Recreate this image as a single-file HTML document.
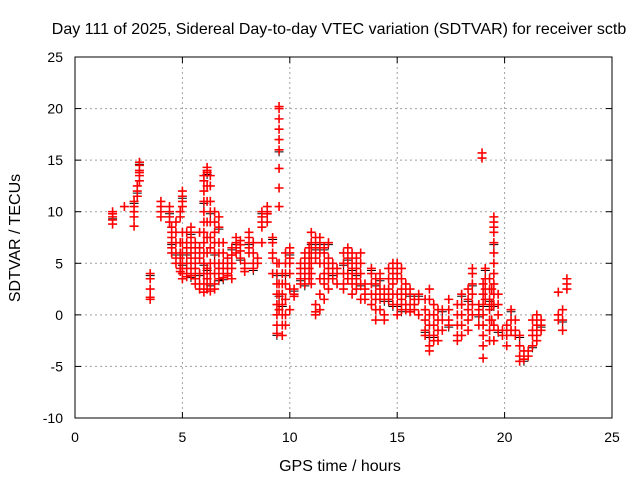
<!DOCTYPE html>
<html><head><meta charset="utf-8"><style>
body{margin:0;background:#fff;}
svg{display:block;font-family:"Liberation Sans",sans-serif;}
</style></head><body>
<svg id="chart" width="640" height="480">
<rect width="640" height="480" fill="#fff"/>
<text x="339" y="34" font-size="16" text-anchor="middle">Day 111 of 2025, Sidereal Day-to-day VTEC variation (SDTVAR) for receiver sctb</text>
<g id="grid"></g><g id="axes"></g><g id="marks"></g>
<text x="340" y="471" font-size="16" text-anchor="middle">GPS time / hours</text>
<text transform="translate(20,238) rotate(-90)" font-size="16" text-anchor="middle">SDTVAR / TECUs</text>
</svg>
<script>
const xTicks=[0,5,10,15,20,25];
const yTicks=[-10,-5,0,5,10,15,20,25];
const groupTimes=[1.75,2.3,2.75,2.9,3.0,3.5,4.0,4.4,4.5,4.7,4.9,5.0,5.2,5.4,5.6,5.8,6.0,6.15,6.3,6.5,6.7,6.9,7.1,7.3,7.5,7.7,7.9,8.1,8.3,8.5,8.7,8.95,9.2,9.4,9.5,9.65,9.8,10.0,10.2,10.5,10.7,10.9,11.0,11.2,11.4,11.6,11.8,12.0,12.2,12.5,12.7,12.9,13.1,13.3,13.5,13.8,14.0,14.2,14.4,14.6,14.8,15.0,15.2,15.4,15.6,15.8,16.0,16.3,16.5,16.7,16.9,17.1,17.4,17.8,18.0,18.3,18.5,18.8,18.95,19.0,19.1,19.3,19.4,19.5,19.7,19.9,20.1,20.3,20.5,20.7,20.9,21.1,21.3,21.5,21.7,22.5,22.7,22.9];
const groupValues=[
[9.5,9.8,9.2,10,8.8],[10.5],[11,10,9.5,10.5,8.6],[11.5,12,12.5],[13,13.5,14,14.5,14.8,13.8],
[1.5,1.7,2.5,3.5,4],[10,10.5,11,9.5],[10.5,10,9.5,9],[8.5,8,7.5,7,6.5,6],[9,8,7,6,5.5,5],
[10,9.5,7,6,5.5,5,4.5,4.2],[12,11.5,11,10.5,8,7,6,5,4,3.5],[8,7,6.5,6,5,4.5,4,3.7],
[8.5,8,7.5,6.5,5.5,5,4.5,3.8],[7,6,5.5,5,4.5,4,3.5,3],[8,6.5,5.5,4,3,2.5],
[13,13.5,12,11,10,9,8,7,6,5,4,3,2.2],[14,14.3,13.8,12.5,11,9,7.5,6,4.5,3.5,2.5],
[13.5,12.5,11,10,9,7.5,6.5,5,4,3,2.3],[10,9,8,7,6,5,4,3,2.5],[9.5,8.5,7,6,5,4.5,4,3.5],
[7,6,5,4.5,4,3.6],[5.5,5,4.5,4,3.8],[6.5,5.8,5,4.5,3.5],[7.5,7,6.5,6],[7.2,6.8,6.2,5.5],
[5,4.5,4.2],[8,7.5,7,6.5,6],[7,6,5,4.5],[5.5,5],[9.5,9,8.5,10,7],[10,10.5,9.8,9],
[7.5,7,6,5.5,4],[5,4,3,2,1,0,-1,-1.8],[20.2,20,19,18,17,16,14.2,12.3,10.5,5,3,2,1,0.5],
[4,3,2,1,0,-1,-2],[6,5,4,3,1.5,0,-1],[6.5,6,5.5,5,4,2.5,0.5],[2.5,2,1.8],[5,4.5,4,3.5,3],
[6,5.5,5,4,3],[6.5,5.5,4.5,3.5],[8,7,6,5,4,3],[7.5,6.5,5.5,1,0.3,0],[7.5,7,6,5,3.5,2,0.5],
[6.5,6,5,4,3,1.5],[7,5.5,4.5,3.5,2.5],[5,4,3.5],[4.5,4,3],[6,5,4,3,2.5],[6.5,6,5.5,5,4,3.5],
[6,5,4.5,4,3,2],[5.5,4.5,4,3.5,2.5],[6,5,4,3,1.5],[3,2.5,2,1.5],[4.5,4,3,2,1],
[3.5,3,2,1.5,0.5,-0.5],[4,3.5,2.5,1.5,0.5],[2.5,2,1.5,0,-0.5],[4.5,3.5,2.5,1.5],
[5,4.5,4,3,2,1],[5,4.5,4,3.5,2,1,0],[4.5,3.5,2.5,1.5,0.5],[3,2,1,0.5],[2.5,2,1,0.3],
[1.5,1,0.5],[2,1.5,0],[1.5,0.5,-0.5,-1.5,-2],[2.5,1.5,0,-1,-2,-3,-3.5],[1,0,-1,-2,-2.5],
[0.5,-0.5,-1.5,-2.5],[0.5,-0.5,-1.5],[1.5,0.5,-0.5,-1],[1,0,-1,-2,-2.5],[2,1,0,-1,-2],
[2.5,1.5,0.5,-0.5,-1.5],[4.5,4,3,2,1,0],[1,0.5,0,-1],[15.7,15.2],[3,2,1,0,-1,-2,-3,-4.2],
[4.5,3.5,2.5,1.5],[3.5,2.5,1.5,0.5,-0.5,-1.5,-2.5],[2.5,1,-0.5],
[9.5,9,8.5,8,7,6,5,4,3,2,1,-1,-2.5],[2,1,0,-1.5],[-1.5,-2],[-1,-2,-3],[0.5,-0.5,-1.5],
[-0.5,-1.5,-2],[-2,-3,-4,-4.5],[-3.5,-4,-4.3],[-3.5,-4],[-0.5,-1.5,-2,-3],[0,-1,-2,-2.5],
[-0.5,-1,-1.5],[2.2,0,-0.5],[0.5,-0.5,-1.5],[3.5,3,2.5]];
const NS="http://www.w3.org/2000/svg";
const L=75,R=612,T=57,B=418;
const xs=v=>L+(v-0)/25*(R-L);
const ys=v=>B-(v+10)/35*(B-T);
function mk(tag,attrs,parent){const e=document.createElementNS(NS,tag);for(const k in attrs)e.setAttribute(k,attrs[k]);parent.appendChild(e);return e;}
const grid=document.getElementById('grid'),axes=document.getElementById('axes'),marks=document.getElementById('marks');
xTicks.forEach(t=>{const x=xs(t);
 if(t>0&&t<25){const g=mk('line',{x1:x,x2:x,y1:T,y2:B,stroke:'#a0a0a0','stroke-dasharray':'2,3'},grid);
 
 }
 mk('line',{x1:x,x2:x,y1:B,y2:B-6,stroke:'#000'},axes);mk('line',{x1:x,x2:x,y1:T,y2:T+6,stroke:'#000'},axes);
 const tx=mk('text',{x:x,y:442,'font-size':14,'text-anchor':'middle'},axes);tx.textContent=t;
 
 });
yTicks.forEach(t=>{const y=ys(t);
 if(t>-10&&t<25){const g=mk('line',{x1:L,x2:R,y1:y,y2:y,stroke:'#a0a0a0','stroke-dasharray':'2,3'},grid);
 
 }
 mk('line',{x1:L,x2:L+6,y1:y,y2:y,stroke:'#000'},axes);mk('line',{x1:R,x2:R-6,y1:y,y2:y,stroke:'#000'},axes);
 const tx=mk('text',{x:63,y:y+5,'font-size':14,'text-anchor':'end'},axes);tx.textContent=t;
 
 });
const fr=mk('rect',{x:L,y:T,width:R-L,height:B-T,fill:'none',stroke:'#000'},axes);


let d='',db='',k=0;
groupTimes.forEach((t,i)=>{groupValues[i].forEach(v=>{const x=xs(t),y=ys(v);
 d+=`M${x-4.5},${y}h9M${x},${y-4.5}v9`;
 if(k%6===0)db+=`M${x-4.5},${y+2}h9M${x},${y-2.5}v9`;
 k++;});});
const pb=mk('path',{d:db,stroke:'#000','stroke-width':1,fill:'none'},marks);


const p=mk('path',{d:d,stroke:'#f00','stroke-width':1.6,fill:'none'},marks);


</script>
</body></html>
